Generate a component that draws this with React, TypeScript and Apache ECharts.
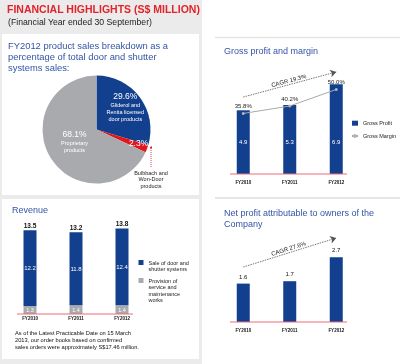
import React, { useEffect, useRef } from 'react';
import * as echarts from 'echarts';

// ---------- data ----------
const years = ['FY2010', 'FY2011', 'FY2012'];
const grossProfit = [4.9, 5.3, 6.9];
const grossMargin = [35.8, 40.2, 50.0];
const revenueSales = [12.2, 11.8, 12.4];
const revenueService = [1.3, 1.4, 1.4];
const revenueTotal = [13.5, 13.2, 13.8];
const netProfit = [1.6, 1.7, 2.7];
const pieNames = [
  'Gliderol and\nRenita licensed\ndoor products',
  'Bulbbach and\nWon-Door\nproducts',
  'Proprietary\nproducts',
];
const pieValues = [29.6, 2.3, 68.1];
const revenueNames = ['Sale of door and\nshutter systems', 'Provision of\nservice and\nmaintenance\nworks'];
const grossNames = ['Gross Profit', 'Gross Margin'];
const cagrGrossText = 'CAGR 19.3%';
const cagrNetText = 'CAGR 27.6%';

const headerTitle = 'FINANCIAL HIGHLIGHTS (S$ MILLION)';
const headerSub = '(Financial Year ended 30 September)';
const pieTitle = 'FY2012 product sales breakdown as a\npercentage of total door and shutter\nsystems sales:';
const grossTitle = 'Gross profit and margin';
const revenueTitle = 'Revenue';
const netTitle = 'Net profit attributable to owners of the\nCompany';
const footnote =
  'As of the Latest Practicable Date on 15 March\n2013, our order books based on confirmed\nsales orders were approximately S$17.46 million.';

// ---------- layout / style ----------
const FONT = '"Liberation Sans", Arial, sans-serif';
const BLUE = '#12408f';
const GRAY = '#a8aaad';
const RED = '#e3151c';
const TITLE_BLUE = '#3355a5';
const BASE_RED = '#ee6a78';

const GP = { left: 220, width: 139.5, top: 70, height: 104 };
const REV = { left: 7, width: 138, top: 221, height: 93 };
const NP = { left: 220, width: 139.5, top: 226, height: 96 };
const PIE_SHIFT = [
  [4.8, -5.4],
  [14, 2.9],
  [3.3, -5],
];
// CAGR arrow ends (value-axis positions of the annotation)
const GP_ARROW = [5.92, 7.85];
const NP_ARROW = [2.29, 3.5];

function baseline(g: { left: number; width: number; top: number; height: number }, a: number, b: number) {
  const y = g.top + g.height;
  return {
    type: 'line',
    z: 5,
    shape: { x1: g.left + a, y1: y, x2: g.left + b, y2: y },
    style: { stroke: BASE_RED, lineWidth: 1.2 },
  };
}

function catAxis(gridIndex: number, margin: number) {
  return {
    type: 'category',
    gridIndex,
    data: years,
    axisLine: { show: false },
    axisTick: { show: false },
    axisLabel: { fontSize: 4.5, fontWeight: 'bold', color: '#111', margin },
  };
}

function cagrLine(text: string, ends: number[]) {
  return {
    silent: true,
    symbol: ['none', 'arrow'],
    symbolSize: 6,
    lineStyle: { color: '#555', type: [1.5, 1], width: 0.8 },
    itemStyle: { color: '#222' },
    label: { show: true, position: 'insideMiddleTop', formatter: text, fontSize: 6, color: '#222', distance: 1 },
    emphasis: { disabled: true },
    data: [[{ coord: [years[0], ends[0]] }, { coord: [years[2], ends[1]] }]],
  };
}

const option: any = {
  animation: false,
  textStyle: { fontFamily: FONT },
  graphic: [
    { type: 'rect', z: -10, shape: { x: 0, y: 0, width: 202, height: 364 }, style: { fill: '#ebebeb' } },
    { type: 'rect', z: -9, shape: { x: 2, y: 34, width: 197, height: 161 }, style: { fill: '#fff' } },
    { type: 'rect', z: -9, shape: { x: 2, y: 199, width: 197, height: 160 }, style: { fill: '#fff' } },
    { type: 'line', z: -9, shape: { x1: 215, y1: 37.5, x2: 400, y2: 37.5 }, style: { stroke: '#e6e6e6', lineWidth: 1.5 } },
    { type: 'line', z: -9, shape: { x1: 215, y1: 198, x2: 400, y2: 198 }, style: { stroke: '#e6e6e6', lineWidth: 2 } },
    baseline(GP, 10, 127),
    baseline(REV, 10, 126),
    baseline(NP, 10, 127),
    { type: 'line', z: 5, shape: { x1: 151, y1: 148, x2: 151, y2: 168 }, style: { stroke: RED, lineWidth: 0.8, lineDash: [1, 1] } },
    { type: 'circle', z: 5, shape: { cx: 151, cy: 147.5, r: 1 }, style: { fill: RED } },
    {
      type: 'text',
      z: 5,
      x: 151,
      y: 169.5,
      style: { text: pieNames[1], fontSize: 5.5, lineHeight: 6.5, fill: '#222', align: 'center', verticalAlign: 'top', fontFamily: FONT },
    },
  ],
  title: [
    { text: headerTitle, left: 7, top: 3, padding: 0, z: 10, textStyle: { color: '#e3232b', fontSize: 10.5, fontWeight: 'bold', lineHeight: 12, fontFamily: FONT } },
    { text: headerSub, left: 8, top: 16.7, padding: 0, z: 10, textStyle: { color: '#222', fontSize: 8.7, fontWeight: 'normal', lineHeight: 10, fontFamily: FONT } },
    { text: pieTitle, left: 8, top: 40.2, padding: 0, z: 10, textStyle: { color: TITLE_BLUE, fontSize: 9.4, fontWeight: 'normal', lineHeight: 11, fontFamily: FONT } },
    { text: grossTitle, left: 224, top: 45.2, padding: 0, z: 10, textStyle: { color: TITLE_BLUE, fontSize: 9, fontWeight: 'normal', lineHeight: 11, fontFamily: FONT } },
    { text: revenueTitle, left: 12, top: 204.5, padding: 0, z: 10, textStyle: { color: TITLE_BLUE, fontSize: 9, fontWeight: 'normal', lineHeight: 11, fontFamily: FONT } },
    { text: netTitle, left: 224, top: 207.5, padding: 0, z: 10, textStyle: { color: TITLE_BLUE, fontSize: 9, fontWeight: 'normal', lineHeight: 11, fontFamily: FONT } },
    { text: footnote, left: 15, top: 329.2, padding: 0, z: 10, textStyle: { color: '#111', fontSize: 5.7, fontWeight: 'normal', lineHeight: 7, fontFamily: FONT } },
  ],
  legend: [
    {
      data: [{ name: grossNames[0], icon: 'rect' }, { name: grossNames[1] }],
      orient: 'vertical',
      left: 351,
      top: 119.7,
      padding: 0,
      itemWidth: 6,
      itemHeight: 5,
      itemGap: 5.8,
      selectedMode: false,
      z: 10,
      textStyle: { fontSize: 5.5, lineHeight: 7, color: '#222' },
    },
    {
      data: [{ name: revenueNames[0], icon: 'rect' }],
      orient: 'vertical',
      left: 138.5,
      top: 252.75,
      padding: 0,
      itemWidth: 5,
      itemHeight: 5,
      selectedMode: false,
      z: 10,
      formatter: (n: string) => '\n' + n,
      textStyle: { fontSize: 5.5, lineHeight: 6.5, color: '#222' },
    },
    {
      data: [{ name: revenueNames[1], icon: 'rect' }],
      orient: 'vertical',
      left: 138.5,
      top: 257.75,
      padding: 0,
      itemWidth: 5,
      itemHeight: 5,
      selectedMode: false,
      z: 10,
      formatter: (n: string) => '\n\n\n' + n,
      textStyle: { fontSize: 5.5, lineHeight: 6.5, color: '#222' },
    },
  ],
  grid: [
    { ...GP, containLabel: false },
    { ...REV, containLabel: false },
    { ...NP, containLabel: false },
  ],
  xAxis: [catAxis(0, 5.5), catAxis(1, 2), catAxis(2, 6)],
  yAxis: [
    { type: 'value', gridIndex: 0, min: 0, max: 8, show: false },
    { type: 'value', gridIndex: 0, min: 0, max: 61.5, show: false },
    { type: 'value', gridIndex: 1, min: 0, max: 15, show: false },
    { type: 'value', gridIndex: 2, min: 0, max: 4, show: false },
  ],
  series: [
    {
      type: 'pie',
      center: [96.5, 129.5],
      radius: 54,
      startAngle: 90,
      clockwise: true,
      silent: true,
      avoidLabelOverlap: false,
      color: [BLUE, RED, GRAY],
      itemStyle: { borderWidth: 0 },
      data: pieNames.map((n, i) => ({ name: n, value: pieValues[i] })),
      label: {
        show: true,
        position: 'inside',
        color: '#fff',
        formatter: (p: any) =>
          p.dataIndex === 1
            ? `{pct|${p.value}%}`
            : `{pct|${p.value}%}\n` + String(p.name).split('\n').map((l: string) => `{desc|${l}}`).join('\n'),
        rich: {
          pct: { fontSize: 8.5, lineHeight: 12, color: '#fff', fontFamily: FONT },
          desc: { fontSize: 5.5, lineHeight: 7, color: '#fff', fontFamily: FONT },
        },
      },
      labelLine: { show: false },
      labelLayout: (p: any) => ({ dx: PIE_SHIFT[p.dataIndex][0], dy: PIE_SHIFT[p.dataIndex][1] }),
      emphasis: { disabled: true },
    },
    {
      name: grossNames[0],
      type: 'bar',
      xAxisIndex: 0,
      yAxisIndex: 0,
      barWidth: 13,
      silent: true,
      itemStyle: { color: BLUE },
      data: grossProfit,
      label: { show: true, position: 'insideBottom', distance: 29, fontSize: 6, color: '#fff' },
      markLine: cagrLine(cagrGrossText, GP_ARROW),
    },
    {
      name: grossNames[1],
      type: 'line',
      xAxisIndex: 0,
      yAxisIndex: 1,
      silent: true,
      symbol: 'circle',
      symbolSize: 3,
      itemStyle: { color: '#b5b5b5' },
      lineStyle: { color: '#a8a8a8', width: 1 },
      data: grossMargin,
      z: 4,
      label: { show: true, position: 'top', distance: 2.5, fontSize: 6, color: '#222', formatter: (p: any) => p.value.toFixed(1) + '%' },
    },
    {
      name: revenueNames[1],
      type: 'bar',
      xAxisIndex: 1,
      yAxisIndex: 2,
      stack: 'rev',
      barWidth: 13,
      barGap: '-100%',
      silent: true,
      itemStyle: { color: GRAY },
      data: revenueService,
      label: { show: true, position: 'inside', fontSize: 5.5, color: '#fff' },
    },
    {
      name: revenueNames[0],
      type: 'bar',
      xAxisIndex: 1,
      yAxisIndex: 2,
      stack: 'rev',
      barWidth: 13,
      barGap: '-100%',
      silent: true,
      itemStyle: { color: BLUE },
      data: revenueSales,
      label: { show: true, position: 'inside', fontSize: 6, color: '#fff' },
    },
    {
      name: 'Total',
      type: 'bar',
      xAxisIndex: 1,
      yAxisIndex: 2,
      barWidth: 13,
      barGap: '-100%',
      silent: true,
      itemStyle: { color: 'rgba(0,0,0,0)' },
      data: revenueTotal,
      label: { show: true, position: 'top', distance: 1.5, fontSize: 6.5, fontWeight: 'bold', color: '#111' },
    },
    {
      name: 'Net Profit',
      type: 'bar',
      xAxisIndex: 2,
      yAxisIndex: 3,
      barWidth: 13,
      silent: true,
      itemStyle: { color: BLUE },
      data: netProfit,
      label: { show: true, position: 'top', distance: 4, fontSize: 6, color: '#111' },
      markLine: cagrLine(cagrNetText, NP_ARROW),
    },
  ],
};

export default function App() {
  const ref = useRef<HTMLDivElement>(null);
  useEffect(() => {
    const chart = echarts.init(ref.current!, null, { renderer: 'svg' });
    chart.setOption(option);
    return () => chart.dispose();
  }, []);
  return <div ref={ref} style={{ position: 'fixed', left: 0, top: 0, width: 400, height: 364 }} />;
}
